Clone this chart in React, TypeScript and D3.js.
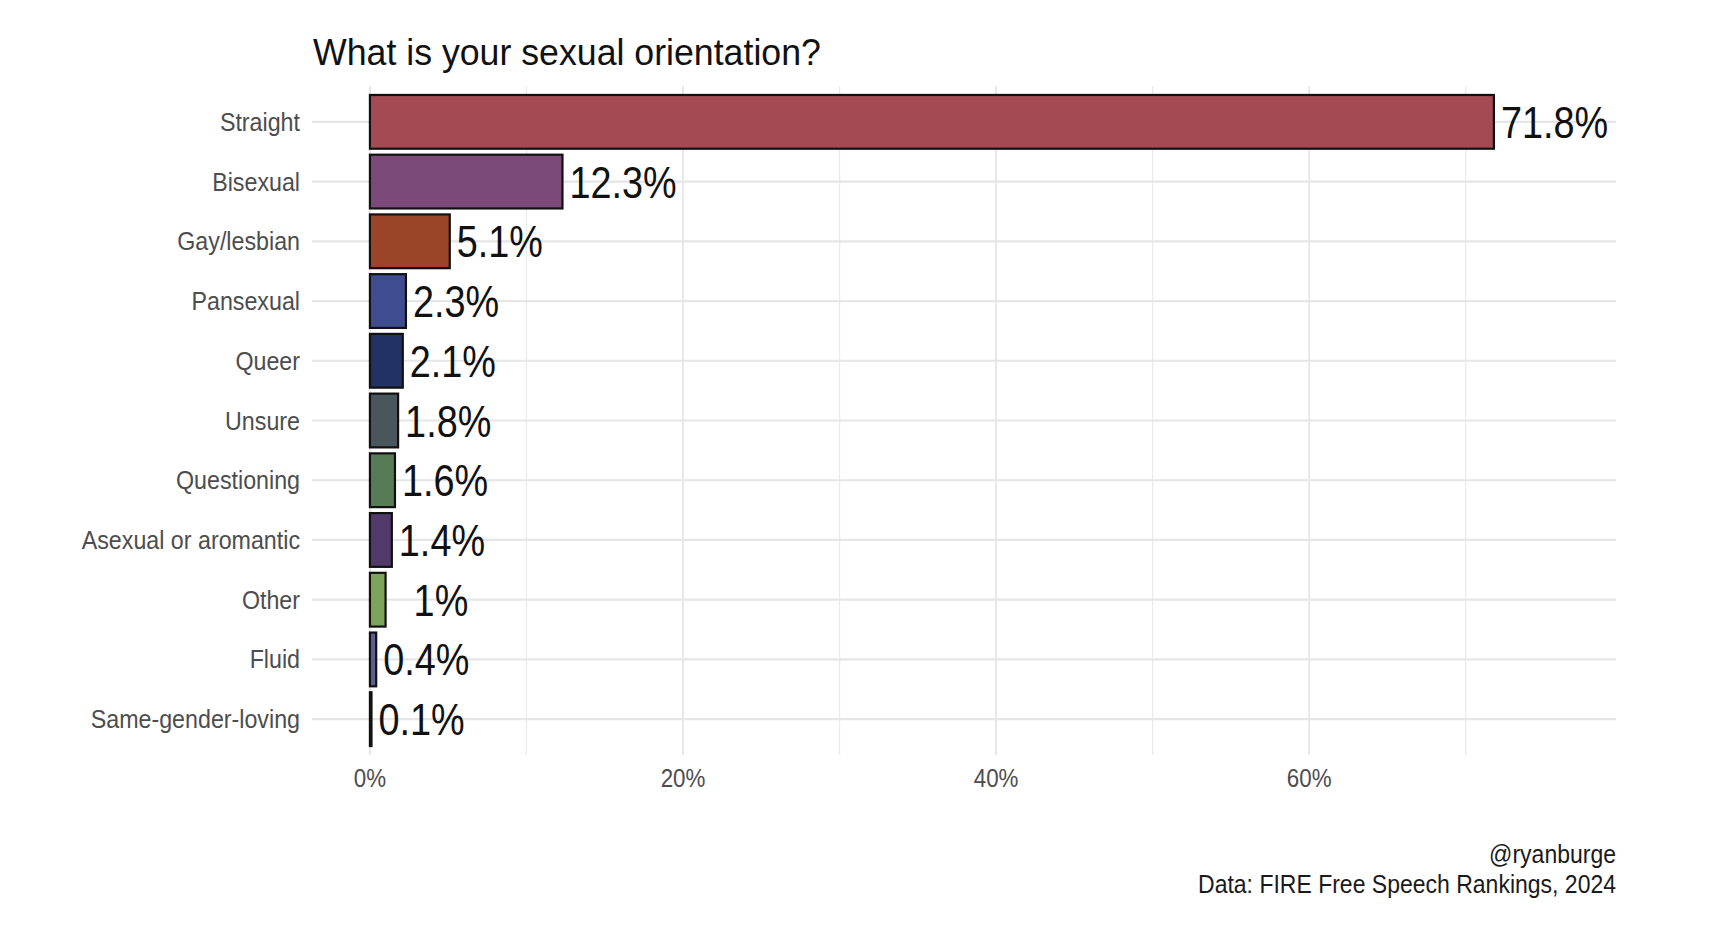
import * as d3 from "d3";
import React from "react";

const categories = [
  "Straight",
  "Bisexual",
  "Gay/lesbian",
  "Pansexual",
  "Queer",
  "Unsure",
  "Questioning",
  "Asexual or aromantic",
  "Other",
  "Fluid",
  "Same-gender-loving",
];
const values = [71.8, 12.3, 5.1, 2.3, 2.1, 1.8, 1.6, 1.4, 1.0, 0.4, 0.1];
const valueLabels = ["71.8%", "12.3%", "5.1%", "2.3%", "2.1%", "1.8%", "1.6%", "1.4%", "\u00a0\u00a01%", "0.4%", "0.1%"];
const barColors = [
  "#a34a52",
  "#7b4a78",
  "#9c4428",
  "#3f4c8f",
  "#213263",
  "#4a555c",
  "#557b57",
  "#513a6a",
  "#7ea35a",
  "#5b5f93",
  "#2a2a2a",
];
const majorTicks = [0, 20, 40, 60];
const minorTicks = [10, 30, 50, 70];

const FONT = "'Liberation Sans', Arial, sans-serif";

const App: React.FC = (): React.ReactElement => {
  const ref = React.useRef<SVGSVGElement>(null);

  React.useEffect(() => {
    const width = 1722;
    const height = 952;
    const panel = { left: 312, right: 1616, top: 86, bottom: 755 };

    const svg = d3.select(ref.current);
    svg.selectAll("*").remove();

    const x = d3.scaleLinear().domain([-3.7, 79.6]).range([panel.left, panel.right]);
    const y = d3
      .scaleBand<string>()
      .domain(categories)
      .range([panel.top, panel.bottom])
      .paddingInner(0.1)
      .paddingOuter(0.15);
    const mid = (c: string) => (y(c) as number) + y.bandwidth() / 2;

    // narrow text: Abel is a condensed face, squeeze Liberation Sans horizontally
    const label = (
      g: any,
      tx: number,
      ty: number,
      txt: string,
      size: number,
      sx: number,
      color: string,
      anchor = "start"
    ) =>
      g
        .append("text")
        .attr("transform", `translate(${tx},${ty}) scale(${sx},1)`)
        .attr("text-anchor", anchor)
        .attr("font-family", FONT)
        .attr("font-size", size)
        .attr("fill", color)
        .style("white-space", "pre")
        .text(txt);

    svg.append("rect").attr("width", width).attr("height", height).attr("fill", "#ffffff");

    // grid
    const grid = svg.append("g");
    grid
      .selectAll("line.minor")
      .data(minorTicks)
      .enter()
      .append("line")
      .attr("x1", (d) => x(d))
      .attr("x2", (d) => x(d))
      .attr("y1", panel.top)
      .attr("y2", panel.bottom)
      .attr("stroke", "#ebebeb")
      .attr("stroke-width", 1.3);
    grid
      .selectAll("line.major")
      .data(majorTicks)
      .enter()
      .append("line")
      .attr("x1", (d) => x(d))
      .attr("x2", (d) => x(d))
      .attr("y1", panel.top)
      .attr("y2", panel.bottom)
      .attr("stroke", "#e6e6e6")
      .attr("stroke-width", 1.8);
    grid
      .selectAll("line.h")
      .data(categories)
      .enter()
      .append("line")
      .attr("x1", panel.left)
      .attr("x2", panel.right)
      .attr("y1", (d) => mid(d))
      .attr("y2", (d) => mid(d))
      .attr("stroke", "#e6e6e6")
      .attr("stroke-width", 2.2);

    // bars
    svg
      .append("g")
      .selectAll("rect")
      .data(values)
      .enter()
      .append("rect")
      .attr("x", x(0))
      .attr("y", (d, i) => y(categories[i]) as number)
      .attr("width", (d) => x(d) - x(0))
      .attr("height", y.bandwidth())
      .attr("fill", (d, i) => barColors[i])
      .attr("stroke", "#111111")
      .attr("stroke-width", 2.2);

    // value labels
    const vals = svg.append("g");
    values.forEach((v, i) => {
      label(vals, x(v) + 7, mid(categories[i]) + 16, valueLabels[i], 44, 0.86, "#111111");
    });

    // y axis labels
    const yl = svg.append("g");
    categories.forEach((c) => {
      label(yl, 300, mid(c) + 9, c, 25, 0.93, "#4d4d4d", "end");
    });

    // x axis labels
    const xl = svg.append("g");
    majorTicks.forEach((t) => {
      label(xl, x(t), 787, `${t}%`, 26, 0.86, "#4d4d4d", "middle");
    });

    // title
    label(svg, 313, 65, "What is your sexual orientation?", 37, 0.965, "#111111");

    // caption
    label(svg, panel.right, 863, "@ryanburge", 25, 0.92, "#1a1a1a", "end");
    label(svg, panel.right, 893, "Data: FIRE Free Speech Rankings, 2024", 25, 0.92, "#1a1a1a", "end");
  }, []);

  return (
    <svg
      ref={ref}
      width={1722}
      height={952}
      style={{ position: "absolute", left: 0, top: 0 }}
    />
  );
};

export default App;
